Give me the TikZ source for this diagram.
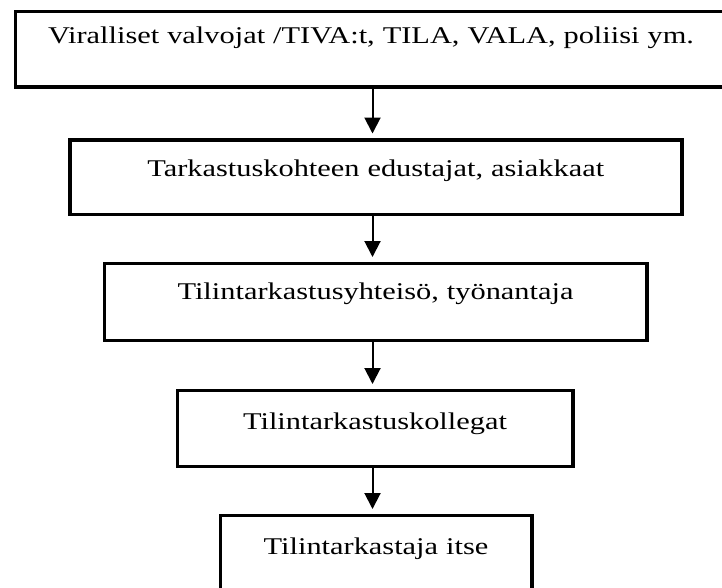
\documentclass[tikz,border=0pt]{standalone}
\usepackage{fontspec}
\setmainfont[FakeStretch=1.266]{Liberation Serif}
\usetikzlibrary{arrows.meta}
\begin{document}
\begin{tikzpicture}[x=1pt,y=-1pt,
  box/.style={draw, line width=3.5pt, inner sep=0pt, anchor=north west,
    font=\fontsize{24}{27}\selectfont},
  arr/.style={line width=2pt, -{Triangle[width=16pt,length=16pt]}, shorten >=4.5pt}]
\useasboundingbox (0,0) rectangle (722,587);
\coordinate (ax) at (372.5,0);
% boxes: width = right-left, text height = baseline-top, text depth = bottom-baseline
\node[box, text width=711.5pt, align=center, text height=32pt, text depth=43.5pt] (b1) at (13.5,9.5)
  {Viralliset valvojat /TIVA:t, TILA, VALA, poliisi ym.};
\node[box, text width=612pt, align=center, text height=37pt, text depth=37.5pt] (b2) at (68,138)
  {Tarkastuskohteen edustajat, asiakkaat};
\node[box, text width=542.5pt, align=center, text height=36.5pt, text depth=40.5pt] (b3) at (102.5,261.5)
  {Tilintarkastusyhteisö, työnantaja};
\node[box, text width=395.5pt, align=center, text height=39.5pt, text depth=36.5pt] (b4) at (175.5,388.5)
  {Tilintarkastuskollegat};
\node[box, text width=311.5pt, align=center, text height=39.5pt, text depth=38pt] (b5) at (218.5,513.5)
  {Tilintarkastaja itse};
\draw[arr] (b1.south -| ax) -- (b2.north -| ax);
\draw[arr] (b2.south -| ax) -- (b3.north -| ax);
\draw[arr] (b3.south -| ax) -- (b4.north -| ax);
\draw[arr] (b4.south -| ax) -- (b5.north -| ax);
\end{tikzpicture}
\end{document}
